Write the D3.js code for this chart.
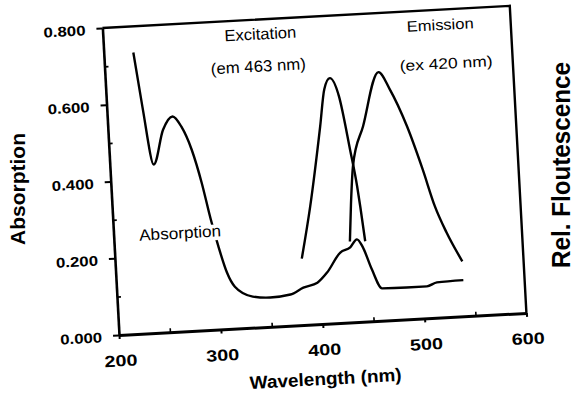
<!DOCTYPE html>
<html>
<head>
<meta charset="utf-8">
<script src="https://cdn.jsdelivr.net/npm/d3@7"></script>
<style>
  body { margin: 0; background: #fff; }
  svg { display: block; font-family: "Liberation Sans", Arial, sans-serif; }
</style>
</head>
<body>
<svg id="chart" width="576" height="395"></svg>
<script>
// absorption spectrum (left axis)
const absWavelength = [229, 235, 243, 254, 264, 272, 281, 289, 296, 302, 309, 316, 333, 350, 370, 383, 397, 407, 421, 431, 438, 443, 451, 460, 484, 504, 514, 540]
const absValues = [0.732, 0.590, 0.438, 0.527, 0.560, 0.533, 0.471, 0.384, 0.287, 0.216, 0.147, 0.109, 0.081, 0.076, 0.081, 0.097, 0.108, 0.133, 0.183, 0.195, 0.215, 0.196, 0.135, 0.084, 0.083, 0.083, 0.092, 0.094]

// excitation (em 463 nm), relative fluorescence
const exWavelength = [383, 394, 408, 414, 420, 428, 436, 441, 443, 446]
const exValues = [21.6, 38.4, 64.2, 76.2, 79.7, 73.6, 56.2, 44.1, 37.5, 26.1]

// emission (ex 420 nm), relative fluorescence
const emWavelength = [431, 434, 438, 450, 468, 478, 493, 506, 516, 526, 540]
const emValues = [26.3, 38.3, 50.7, 63.5, 80.8, 75.1, 62.7, 48.5, 36.3, 27.6, 17.9]

const xTicks = [200, 300, 400, 500, 600]
const xMinor = [250, 350, 450, 550]
const yTicks = [0, 0.2, 0.4, 0.6, 0.8]
const yMinor = [0.1, 0.3, 0.5, 0.7]

const margin = { left: 119, top: 27.5 }
const width = 408, height = 307.5
const tilt = -3.1   // the scan is slightly rotated

const svg = d3.select('#chart')

const x = d3.scaleLinear().domain([200, 600]).range([margin.left, margin.left + width])
const y = d3.scaleLinear().domain([0, 0.8]).range([margin.top + height, margin.top])
const yFl = d3.scaleLinear().domain([0, 100]).range([margin.top + height, margin.top])

const g = svg.append('g')
  .attr('transform', 'rotate(' + tilt + ',' + x(200) + ',' + y(0) + ')')

// top and right frame lines
g.append('path')
  .attr('d', 'M' + x(200) + ',' + y(0.8) + 'H' + x(600) + 'V' + y(0))
  .attr('fill', 'none')
  .attr('stroke', '#000')
  .attr('stroke-width', 2.4)

// left axis
const yAxis = g.append('g')
  .attr('transform', 'translate(' + x(200) + ',0)')
  .call(d3.axisLeft(y).tickValues(yTicks).tickFormat(d3.format('.3f')).tickSize(6).tickPadding(11).tickSizeOuter(0))
yAxis.select('.domain').attr('stroke-width', 2.6)
yAxis.selectAll('.tick line').attr('stroke-width', 2)
yAxis.selectAll('.tick text')
  .attr('font-size', 14).attr('font-weight', 'bold').attr('font-family', 'Liberation Sans, Arial, sans-serif')
  .attr('fill', '#000')
  .attr('textLength', 42).attr('lengthAdjust', 'spacingAndGlyphs')
  .attr('dy', '0.42em')

g.append('g')
  .attr('transform', 'translate(' + x(200) + ',0)')
  .call(d3.axisLeft(y).tickValues(yMinor).tickFormat('').tickSize(-4).tickSizeOuter(0))
  .call(a => a.select('.domain').remove())
  .selectAll('.tick line').attr('stroke-width', 1.6)

// bottom axis
const xAxis = g.append('g')
  .attr('transform', 'translate(0,' + y(0) + ')')
  .call(d3.axisBottom(x).tickValues(xTicks).tickSize(4).tickPadding(16).tickSizeOuter(0))
xAxis.select('.domain').attr('stroke-width', 3)
xAxis.selectAll('.tick line').attr('stroke-width', 2)
xAxis.selectAll('.tick text')
  .attr('font-size', 16).attr('font-weight', 'bold').attr('font-family', 'Liberation Sans, Arial, sans-serif')
  .attr('fill', '#000')
  .attr('textLength', 33).attr('lengthAdjust', 'spacingAndGlyphs')

g.append('g')
  .attr('transform', 'translate(0,' + y(0) + ')')
  .call(d3.axisBottom(x).tickValues(xMinor).tickFormat('').tickSize(-4).tickSizeOuter(0))
  .call(a => a.select('.domain').remove())
  .selectAll('.tick line').attr('stroke-width', 1.6)

// spectra
const absLine = d3.line()
  .x((d, i) => x(absWavelength[i]))
  .y(d => y(d))
  .curve(d3.curveMonotoneX)

const flLine = (wl) => d3.line()
  .x((d, i) => x(wl[i]))
  .y(d => yFl(d))
  .curve(d3.curveMonotoneX)

g.append('path')
  .datum(absValues)
  .attr('d', absLine)
  .attr('fill', 'none').attr('stroke', '#000').attr('stroke-width', 2.4)

g.append('path')
  .datum(exValues)
  .attr('d', flLine(exWavelength))
  .attr('fill', 'none').attr('stroke', '#000').attr('stroke-width', 2.4)

g.append('path')
  .datum(emValues)
  .attr('d', flLine(emWavelength))
  .attr('fill', 'none').attr('stroke', '#000').attr('stroke-width', 2.4)

// annotations (white halo breaks the curve under the label, as in the scan)
const notes = [
  { text: 'Excitation', nm: 319, v: 0.748, size: 16, len: 72 },
  { text: '(em 463 nm)', nm: 304, v: 0.664, size: 16, len: 95 },
  { text: 'Emission', nm: 498, v: 0.747, size: 15, len: 67 },
  { text: '(ex 420 nm)', nm: 489, v: 0.646, size: 15, len: 93 },
  { text: 'Absorption', nm: 225, v: 0.242, size: 16, len: 82 }
]
g.selectAll('.note')
  .data(notes)
  .join('text')
  .attr('class', 'note')
  .attr('x', d => x(d.nm))
  .attr('y', d => y(d.v))
  .attr('font-size', d => d.size)
  .attr('textLength', d => d.len)
  .attr('lengthAdjust', 'spacingAndGlyphs')
  .attr('stroke', '#fff')
  .attr('stroke-width', 7)
  .attr('paint-order', 'stroke')
  .text(d => d.text)

// x title
g.append('text')
  .attr('x', x(400))
  .attr('y', y(0) + 61)
  .attr('text-anchor', 'middle')
  .attr('font-size', 18).attr('font-weight', 'bold')
  .attr('textLength', 152).attr('lengthAdjust', 'spacingAndGlyphs')
  .text('Wavelength (nm)')

// y titles (upright in the scan)
svg.append('text')
  .attr('transform', 'translate(25,189) rotate(-90)')
  .attr('text-anchor', 'middle')
  .attr('font-size', 21).attr('font-weight', 'bold')
  .attr('textLength', 112).attr('lengthAdjust', 'spacingAndGlyphs')
  .text('Absorption')

svg.append('text')
  .attr('transform', 'translate(570,165) rotate(-90)')
  .attr('text-anchor', 'middle')
  .attr('font-size', 26).attr('font-weight', 'bold')
  .attr('textLength', 206).attr('lengthAdjust', 'spacingAndGlyphs')
  .text('Rel. Floutescence')
</script>
</body>
</html>
